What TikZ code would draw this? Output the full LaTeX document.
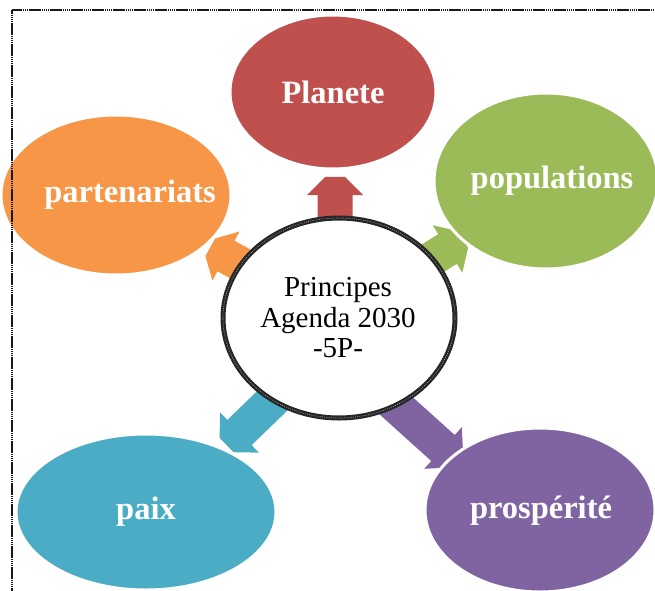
\documentclass[tikz,border=0pt]{standalone}
\usepackage{fontspec}
\setmainfont{Liberation Serif}
\usetikzlibrary{shapes.geometric}
\definecolor{cred}{HTML}{C0504D}
\definecolor{corange}{HTML}{F79646}
\definecolor{cgreen}{HTML}{9BBB59}
\definecolor{cblue}{HTML}{4BACC6}
\definecolor{cpurple}{HTML}{8064A2}
\tikzset{
  petal/.style={ellipse, draw=white, line width=3pt, inner sep=0pt},
  petaltext/.style={text=white, inner sep=0pt, font=\fontsize{32.5}{35}\selectfont\bfseries},
  hub/.style={ellipse, fill=white, draw=black!85, line width=5pt, inner sep=0pt},
  hubtext/.style={align=center, inner sep=0pt, font=\fontsize{29}{30.5}\selectfont},
  frameline/.style={draw=black!90, line width=2.4pt, dash pattern=on 1.6pt off 0.5pt},
}
\newcommand{\blockarrow}[4]{%
  \fill[#1, shift={(#2,#3)}, rotate=#4]
    (-70,-17.5) -- (0,-17.5) -- (0,-28) -- (18,-10) -- (18,10) -- (0,28) -- (0,17.5) -- (-70,17.5) -- cycle;}
\begin{document}
\begin{tikzpicture}[x=1pt, y=1pt]
  \useasboundingbox (0,0) rectangle (655,590);
  \clip (0,0) rectangle (655,590);
  % arrows
  \blockarrow{cred}{335}{395}{90}
  \blockarrow{corange}{226}{334}{151}
  \blockarrow{cgreen}{447.5}{341}{32}
  \blockarrow{cblue}{239.5}{157.5}{224}
  \blockarrow{cpurple}{443}{142}{-42}
  % outer ellipses
  \node[petal, fill=cred, minimum width=206pt, minimum height=154pt] (planete) at (333,498) {};
  \node[petal, fill=corange, minimum width=230pt, minimum height=160pt] (partenariats) at (116,395) {};
  \node[petal, fill=cgreen, minimum width=224pt, minimum height=176pt] (populations) at (546,409) {};
  \node[petal, fill=cblue, minimum width=260pt, minimum height=156pt] (paix) at (146,78) {};
  \node[petal, fill=cpurple, minimum width=230pt, minimum height=164pt] (prosperite) at (540,80) {};
  % labels
  \node[petaltext] (planeteT) at (333,498) {Planete};
  \node[petaltext] (partenariatsT) at (130,395) {partenariats};
  \node[petaltext] (populationsT) at (552,409) {populations};
  \node[petaltext] (paixT) at (146,78) {paix};
  \node[petaltext] (prosperiteT) at (541,79) {prospérité};
  % hub
  \node[hub, minimum width=232pt, minimum height=200pt] (hub) at (339,272) {};
  \draw[white!70!black, line width=0.6pt, dash pattern=on 0.8pt off 1.4pt] (hub.center) ellipse [x radius=116, y radius=100];
  \node[hubtext] (hubT) at (338,272) {Principes\\Agenda 2030\\-5P-};
  % frame
  \draw[frameline] (12,-10) -- (12,580) -- (670,580);
\end{tikzpicture}
\end{document}
